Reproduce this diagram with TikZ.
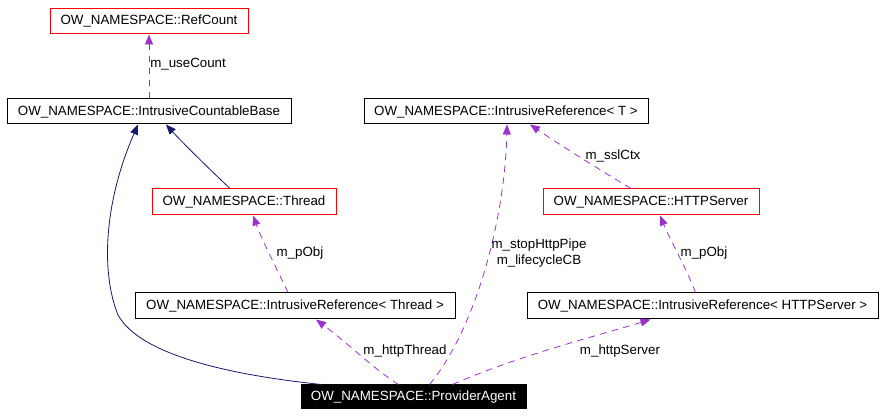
\documentclass[tikz,border=0pt]{standalone}
\usepackage{fontspec}
\setmainfont{Liberation Sans}
\usetikzlibrary{arrows.meta,calc}
\definecolor{inh}{HTML}{191970}
\definecolor{use}{HTML}{9A32CD}
\definecolor{boxred}{HTML}{FF0000}
\begin{document}
\begin{tikzpicture}[x=0.75pt,y=-0.75pt,
  cls/.style={draw=black,line width=0.75pt,inner sep=0pt,minimum height=18.75pt,font=\fontsize{10pt}{12pt}\selectfont},
  redcls/.style={cls,draw=boxred},
  curcls/.style={cls,fill=black,text=white},
  inhedge/.style={draw=inh,line width=0.6pt,-{Triangle[length=7.5pt,width=6pt]}},
  useedge/.style={draw=use,line width=0.6pt,dash pattern=on 5pt off 4pt,-{Triangle[length=7.5pt,width=6pt,fill=use]}},
  lbl/.style={font=\fontsize{10pt}{12pt}\selectfont,inner sep=0pt,align=center}]
\useasboundingbox (0,0) rectangle (883,416);
\fill[white] (0,0) rectangle (883,416);
\node[redcls,minimum width=148.5pt] (rc) at (149,21.5) {OW\_NAMESPACE::RefCount};
\node[cls,minimum width=213pt] (icb) at (149,111.5) {OW\_NAMESPACE::IntrusiveCountableBase};
\node[cls,minimum width=213pt] (irt) at (506,111.5) {OW\_NAMESPACE::IntrusiveReference< T >};
\node[redcls,minimum width=138pt,minimum height=19.5pt] (thr) at (244,202) {OW\_NAMESPACE::Thread};
\node[redcls,minimum width=162pt,minimum height=19.5pt] (hs) at (651,202) {OW\_NAMESPACE::HTTPServer};
\node[cls,minimum width=240pt,minimum height=19.5pt] (irthr) at (295,306) {OW\_NAMESPACE::IntrusiveReference< Thread >};
\node[cls,minimum width=263.25pt,minimum height=19.5pt] (irhs) at (702.5,306) {OW\_NAMESPACE::IntrusiveReference< HTTPServer >};
\node[curcls,minimum width=168.75pt,minimum height=18pt] (pa) at (413.5,397) {OW\_NAMESPACE::ProviderAgent};
% edges
\draw[useedge] (icb.north) -- (rc.south);
\node[lbl,anchor=west] (l1) at (150,64) {m\_useCount};
\draw[inhedge] ($(thr.north)+(-14,0)$) .. controls (205,165) and (180,140) .. ($(icb.south)+(17,0)$);
\draw[inhedge] ($(pa.north west)+(21,0)$) .. controls (230,375) and (140,355) .. (118,315) .. controls (100,270) and (105,200) .. ($(icb.south)+(-11,0)$);
\draw[useedge] ($(pa.north)+(16,0)$) .. controls (475,330) and (505,220) .. ($(irt.south)+(1,0)$);
\node[lbl] (l2) at (539,253) {m\_stopHttpPipe\\m\_lifecycleCB};
\draw[useedge] ($(hs.north)+(-20,0)$) .. controls (600,170) and (560,145) .. ($(irt.south)+(24,0)$);
\node[lbl] (l3) at (613,156) {m\_sslCtx};
\draw[useedge] ($(irthr.north)+(-7,0)$) .. controls (275,265) and (262,240) .. ($(thr.south)+(9,0)$);
\node[lbl] (l4) at (300,253) {m\_pObj};
\draw[useedge] ($(irhs.north)+(-7,0)$) .. controls (685,265) and (670,240) .. ($(hs.south)+(9,0)$);
\node[lbl] (l5) at (704,253) {m\_pObj};
\draw[useedge] ($(pa.north)+(-15,0)$) .. controls (375,370) and (350,345) .. ($(irthr.south)+(21,0)$);
\node[lbl] (l6) at (405,351) {m\_httpThread};
\draw[useedge] ($(pa.north)+(39,0)$) .. controls (520,355) and (600,335) .. ($(irhs.south)+(-52,0)$);
\node[lbl] (l7) at (620,351) {m\_httpServer};
\end{tikzpicture}
\end{document}
